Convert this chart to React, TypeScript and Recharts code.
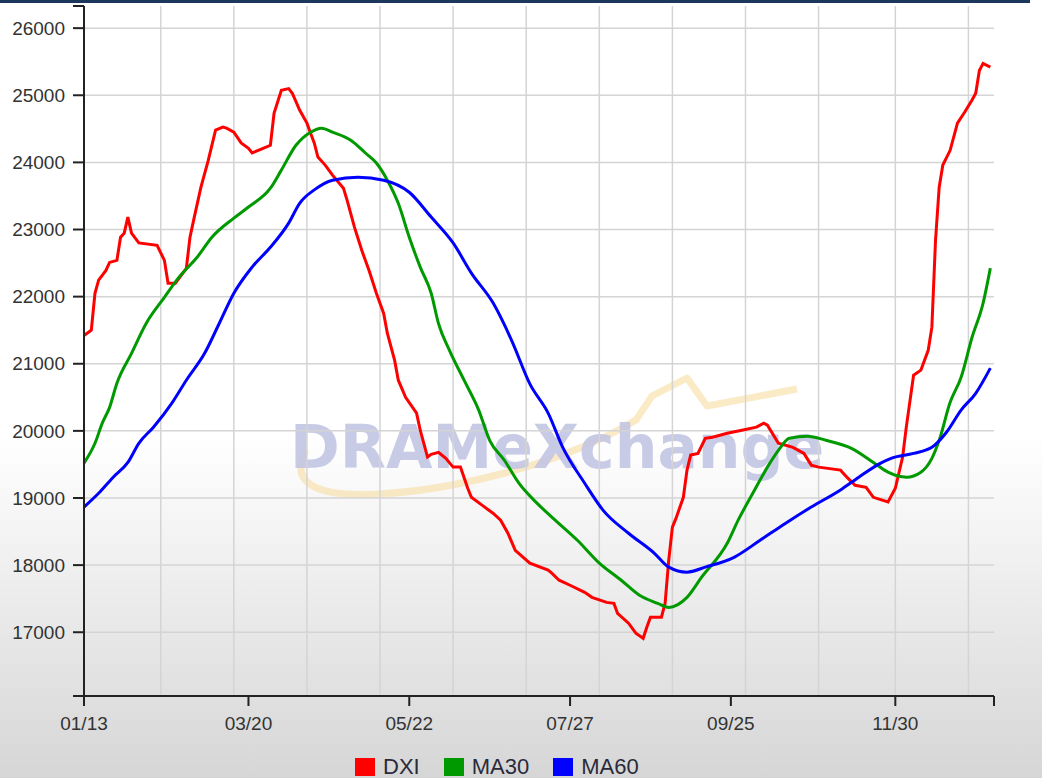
import React from "react";
import { LineChart, Line, XAxis, YAxis, ReferenceLine } from "recharts";

// trading-day index (0 = 01/13) and DXI / moving-average readings
const dxiDays = [
  0, 2, 3, 4, 6, 7, 9, 10, 11, 12, 13, 15, 20, 22, 23, 25, 28, 29, 30, 32, 34, 36, 38, 39, 41, 43, 45,
  46, 49, 51, 52, 54, 56, 57, 59, 61, 62, 63, 64, 66, 68, 71, 72, 74, 76, 78, 80, 82, 83, 85, 86, 88,
  91, 92, 94, 95, 97, 99, 101, 103, 105, 106, 109, 112, 114, 116, 118, 122, 127, 128, 130, 133, 137,
  139, 143, 145, 146, 149, 151, 153, 154, 155, 158, 159, 160, 161, 162, 164, 165, 166, 168, 170, 172,
  176, 180, 184, 186, 187, 190, 194, 197, 199, 201, 207, 209, 211, 214, 216, 220, 222, 224, 225, 227,
  229, 231, 232, 233, 234, 235, 237, 239, 241, 243, 244, 245, 246, 248,
];
const dxi = [
  21420, 21500, 22050, 22245, 22390, 22510, 22540, 22885, 22945, 23185, 22945, 22800, 22765, 22540,
  22200, 22200, 22420, 22885, 23140, 23630, 24030, 24480, 24525, 24510, 24450, 24290, 24210, 24140,
  24210, 24255, 24730, 25075, 25100, 25030, 24780, 24585, 24435, 24290, 24080, 23960, 23810, 23615,
  23435, 23035, 22690, 22390, 22050, 21750, 21455, 21050, 20755, 20500, 20265, 20010, 19610, 19650,
  19680, 19590, 19460, 19460, 19145, 19010, 18890, 18770, 18670, 18475, 18220, 18030, 17925, 17880,
  17775, 17700, 17595, 17520, 17445, 17430, 17280, 17135, 16985, 16910, 17075, 17225, 17225, 17430,
  18075, 18565, 18700, 19010, 19415, 19640, 19665, 19890, 19905, 19965, 20010, 20055, 20115, 20085,
  19815, 19755, 19665, 19490, 19460, 19415, 19295, 19190, 19160, 19010, 18940, 19145, 19610, 20055,
  20830, 20905, 21200, 21545, 22840, 23630, 23960, 24180, 24585, 24750, 24930, 25030, 25370, 25475,
  25420,
];

const ma30Days = [
  0, 3, 5, 7, 9, 13, 17, 22, 26, 31, 35, 41, 45, 51, 54, 58, 62, 65, 68, 73, 77, 80, 83, 86, 89, 92,
  95, 97, 100, 104, 108, 111, 115, 119, 124, 128, 135, 141, 147, 152, 157, 160, 165, 169, 176, 179,
  183, 187, 190, 193, 198, 203, 210, 216, 220, 225, 229, 232, 234, 237, 240, 243, 246, 248,
];
const ma30 = [
  19520, 19815, 20115, 20350, 20710, 21155, 21600, 21990, 22290, 22590, 22885, 23170, 23335, 23615,
  23885, 24255, 24450, 24510, 24450, 24330, 24140, 23990, 23735, 23390, 22885, 22440, 22050, 21600,
  21200, 20755, 20310, 19860, 19565, 19220, 18920, 18715, 18370, 18030, 17775, 17550, 17430, 17370,
  17520, 17820, 18325, 18670, 19070, 19460, 19710, 19890, 19920, 19860, 19740, 19530, 19385, 19310,
  19385, 19590, 19860, 20425, 20800, 21395, 21900, 22425,
];

const ma60Days = [
  0, 4, 8, 12, 15, 19, 24, 28, 33, 37, 41, 46, 51, 56, 59, 63, 68, 75, 82, 89, 95, 101, 106, 112,
  117, 122, 127, 131, 137, 142, 149, 156, 160, 165, 170, 178, 185, 192, 199, 207, 212, 218, 221, 227,
  232, 236, 240, 244, 248,
];
const ma60 = [
  18865, 19070, 19310, 19530, 19815, 20055, 20410, 20755, 21155, 21600, 22050, 22440, 22735, 23095,
  23390, 23590, 23735, 23780, 23735, 23555, 23185, 22800, 22350, 21900, 21350, 20700, 20265,
  19755, 19220, 18820, 18475, 18180, 17970, 17895, 17970, 18120, 18370, 18625, 18865, 19120, 19310,
  19520, 19595, 19665, 19755, 19980, 20310, 20560, 20935,
];

const xTicks = [0, 45, 89, 133, 177, 222, 249];
const xTickLabels = ["01/13", "03/20", "05/22", "07/27", "09/25", "11/30", ""];
const gridDays = [21, 41, 61, 81, 101, 121, 141, 161, 181, 201, 222, 242];
const yGrid = [17000, 18000, 19000, 20000, 21000, 22000, 23000, 24000, 25000, 26000];
const yMin = 16050;
const yMax = 26330;

const toRows = (days: number[], vals: number[]) => days.map((d, i) => ({ day: d, value: vals[i] }));

const series = [
  { name: "DXI", rows: toRows(dxiDays, dxi), color: "#ff0000", curve: "linear" as const },
  { name: "MA30", rows: toRows(ma30Days, ma30), color: "#009a00", curve: "monotone" as const },
  { name: "MA60", rows: toRows(ma60Days, ma60), color: "#0000ff", curve: "monotone" as const },
];

const FONT = '"Liberation Sans", Arial, sans-serif';
const AXIS = "#222";

export default function App() {
  return (
    <div
      style={{
        position: "absolute",
        left: 0,
        top: 0,
        width: 1042,
        height: 778,
        overflow: "hidden",
        fontFamily: FONT,
        background: "linear-gradient(to bottom, #ffffff 0%, #ffffff 56%, #d6d6d6 100%)",
      }}
    >
      {/* watermark behind the plot */}
      <svg width={1042} height={778} style={{ position: "absolute", left: 0, top: 0 }}>
        <path
          d="M 306 450 C 290 480, 310 498, 380 494 S 560 466, 636 420 L 652 396 L 687 378 L 707 406 L 797 389"
          fill="none"
          stroke="#f6dca0"
          strokeWidth={7}
          strokeLinejoin="round"
          opacity={0.6}
        />
        <text
          x={290}
          y={468}
          fontFamily='"DejaVu Sans", Verdana, sans-serif'
          fontWeight="bold"
          fontSize={60}
          fill="#c3c6e4"
          opacity={0.9}
        >
          DRAMeXchange
        </text>
      </svg>

      <div style={{ position: "absolute", left: 0, top: 0, width: 1030, height: 3, background: "#1c365e" }} />

      <div style={{ position: "absolute", left: 0, top: 0 }}>
        <LineChart width={1042} height={778} margin={{ top: 6, right: 48, bottom: 52, left: 8 }}>
          <XAxis
            type="number"
            dataKey="day"
            domain={[0, 249]}
            ticks={xTicks}
            allowDuplicatedCategory={false}
            tickFormatter={(v) => xTickLabels[xTicks.indexOf(v)] ?? ""}
            tick={{ fill: "#333", fontSize: 19, fontFamily: FONT }}
            tickSize={10}
            tickMargin={11}
            height={30}
            axisLine={{ stroke: AXIS, strokeWidth: 2 }}
            tickLine={{ stroke: AXIS, strokeWidth: 2 }}
          />
          <YAxis
            type="number"
            domain={[yMin, yMax]}
            ticks={[yMin, ...yGrid, yMax]}
            tickFormatter={(v) => (yGrid.includes(v) ? String(v) : "")}
            tick={{ fill: "#333", fontSize: 19, fontFamily: FONT }}
            tickSize={11}
            tickMargin={8}
            width={76}
            axisLine={{ stroke: AXIS, strokeWidth: 2 }}
            tickLine={{ stroke: AXIS, strokeWidth: 2 }}
          />
          {yGrid.map((v) => (
            <ReferenceLine key={`h${v}`} y={v} stroke="#d4d4d4" strokeWidth={1.5} />
          ))}
          {gridDays.map((d) => (
            <ReferenceLine key={`v${d}`} x={d} stroke="#d4d4d4" strokeWidth={1.5} />
          ))}
          {series.map((s) => (
            <Line
              key={s.name}
              data={s.rows}
              dataKey="value"
              name={s.name}
              type={s.curve}
              stroke={s.color}
              strokeWidth={3}
              dot={false}
              activeDot={false}
              isAnimationActive={false}
            />
          ))}
        </LineChart>
      </div>

      {/* legend */}
      <div
        style={{
          position: "absolute",
          left: 355,
          top: 754,
          display: "flex",
          alignItems: "center",
          gap: 24,
          fontSize: 22,
          color: "#2a2a3a",
        }}
      >
        {series.map((s) => (
          <div key={s.name} style={{ display: "flex", alignItems: "center" }}>
            <span style={{ display: "inline-block", width: 20, height: 18, background: s.color, marginRight: 8 }} />
            <span>{s.name}</span>
          </div>
        ))}
      </div>
    </div>
  );
}
